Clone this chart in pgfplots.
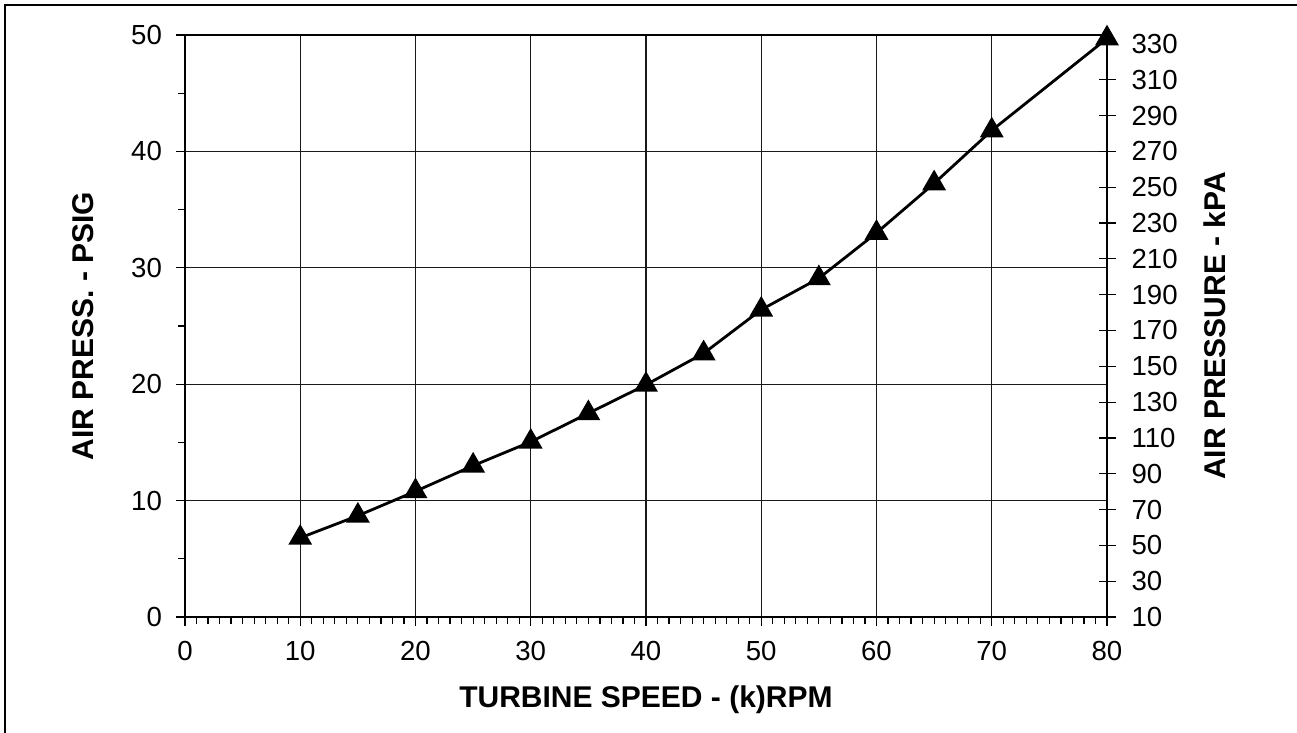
\documentclass[border=0pt]{standalone}
\usepackage{fontspec}
\setmainfont{Liberation Sans}
\usepackage{pgfplots}
\pgfplotsset{compat=1.18}
\begin{document}
\begin{tikzpicture}
\useasboundingbox (-92.5pt,-58pt) rectangle (556pt,308.5pt);
\draw[line width=1pt] (-90pt,-58pt) -- (-90pt,306pt) -- (556pt,306pt);
\begin{axis}[
  at={(0,0)}, anchor=south west,
  width=461pt, height=291pt, scale only axis,
  xmin=0, xmax=80, ymin=0, ymax=50,
  xtick={0,10,...,80}, ytick={0,10,...,50},
  minor x tick num=9, minor y tick num=1,
  xtick pos=bottom, ytick pos=left,
  tick align=outside,
  major tick length=4.5pt, minor tick length=3.5pt,
  xmajorgrids, ymajorgrids,
  grid style={black!90, line width=0.65pt},
  axis line style={line width=1.3pt},
  every tick/.style={black, line width=0.6pt},
  tick label style={font=\fontsize{13.8}{16}\selectfont},
  xticklabel style={yshift=-4pt},
  yticklabel style={xshift=-3.5pt},
  /pgf/number format/assume math mode=true,
  clip=false,
  xlabel={TURBINE SPEED - (k)RPM},
  ylabel={AIR PRESS. - PSIG},
  every axis x label/.style={at={([yshift=-41.5pt]axis description cs:0.5,0)}, anchor=center, font=\fontsize{15}{18}\selectfont\bfseries},
  every axis y label/.style={at={([xshift=-51pt]axis description cs:0,0.5)}, anchor=center, rotate=90, font=\fontsize{15}{18}\selectfont\bfseries},
]
\addplot[black, line width=1.4pt, mark=triangle*, mark size=5.5pt, mark options={solid}] coordinates {
(10,6.8) (15,8.7) (20,10.8) (25,13.0) (30,15.05) (35,17.5) (40,19.95)
(45,22.65) (50,26.4) (55,29.1) (60,33.0) (65,37.25) (70,41.8) (80,49.7)
};
\end{axis}
\begin{axis}[
  at={(0,0)}, anchor=south west,
  width=461pt, height=291pt, scale only axis,
  xmin=0, xmax=80, ymin=10, ymax=335,
  axis x line=none, axis y line*=right,
  ytick={10,30,...,330},
  tick align=center, major tick length=8.5pt,
  axis line style={line width=1.3pt},
  every tick/.style={black, line width=0.6pt},
  tick label style={font=\fontsize{13.8}{16}\selectfont},
  yticklabel style={xshift=4.5pt},
  /pgf/number format/assume math mode=true,
  ylabel={AIR PRESSURE - kPA},
  every axis y label/.style={at={([xshift=54pt]axis description cs:1,0.5)}, anchor=center, rotate=90, font=\fontsize{15}{18}\selectfont\bfseries},
]
\end{axis}
\end{tikzpicture}
\end{document}
